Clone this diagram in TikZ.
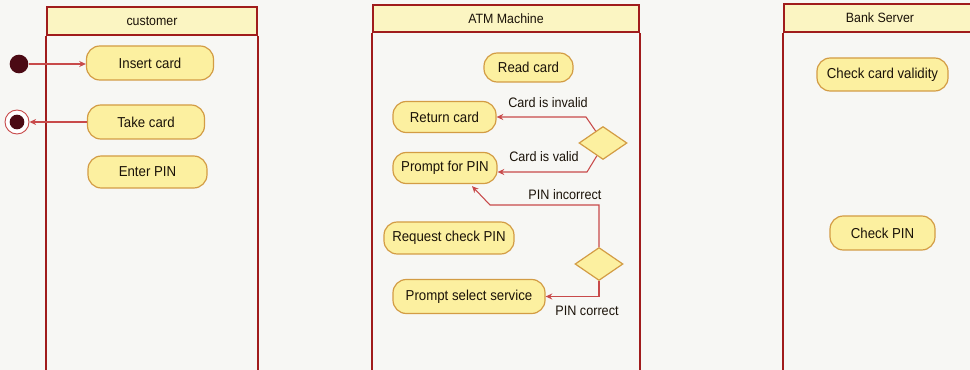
\documentclass[tikz,border=0pt]{standalone}
\usepackage{fontspec}
\setmainfont{Liberation Sans}[FakeStretch=0.92]
\usetikzlibrary{shapes.geometric,arrows.meta,calc}
\definecolor{bg}{HTML}{F7F7F4}
\definecolor{lane}{HTML}{A01C1C}
\definecolor{hdr}{HTML}{FBF5C2}
\definecolor{actfill}{HTML}{FCF0A0}
\definecolor{actline}{HTML}{D39C44}
\definecolor{flowc}{HTML}{C84A4A}
\definecolor{dot}{HTML}{4B0A14}
\definecolor{ink}{HTML}{1A1208}

\begin{document}
\begin{tikzpicture}[x=0.75pt,y=-0.75pt,
  act/.style={draw=actline, fill=actfill, line width=0.9pt, rounded corners=10pt,
    inner sep=0pt, text=ink, font=\fontsize{10.8}{12}\selectfont},
  hdrbox/.style={draw=lane, fill=hdr, line width=1.3pt, inner sep=0pt, text=ink,
    font=\fontsize{10.1}{11}\selectfont},
  laneline/.style={draw=lane, line width=1.5pt},
  choice/.style={diamond, draw=actline, fill=actfill, line width=0.9pt, inner sep=0pt,
    minimum width=36pt, minimum height=24.75pt},
  flow/.style={draw=flowc, line width=0.8pt, -{Stealth[length=5pt,width=4.5pt]}},
  lbl/.style={font=\fontsize{10.3}{11}\selectfont, text=ink, inner sep=1pt},
]
% page
\fill[bg] (0,0) rectangle (970,370);
\useasboundingbox (0,0) rectangle (970,370);

% swimlanes
\node[hdrbox, minimum width=157.5pt, minimum height=21pt] (cust) at (152,21) {customer};
\node[hdrbox, minimum width=199.5pt, minimum height=20.25pt] (atm) at (506,18.5) {ATM Machine};
\node[hdrbox, minimum width=144pt, minimum height=21pt] (bank) at (880,18) {Bank Server};
\draw[laneline] (cust.south west) -- ++(0,340);
\draw[laneline] (cust.south east) -- ++(0,340);
\draw[laneline] (atm.south west) -- ++(0,340);
\draw[laneline] (atm.south east) -- ++(0,340);
\draw[laneline] (bank.south west) -- ++(0,340);

% initial and final states
\node[circle, fill=dot, minimum size=14pt, inner sep=0pt] (start) at (19,64) {};
\node[circle, draw=flowc, fill=white, line width=0.7pt, minimum size=18pt, inner sep=0pt] (end) at (17,122) {};
\node[circle, fill=dot, minimum size=11pt, inner sep=0pt] (endcore) at (end) {};

% customer actions
\node[act, minimum width=95.25pt, minimum height=25.5pt] (insert) at (150,63) {Insert card};
\node[act, minimum width=87.75pt, minimum height=25.5pt] (take) at (146,122) {Take card};
\node[act, minimum width=89.25pt, minimum height=24pt] (enter) at (147.5,172) {Enter PIN};

% ATM actions
\node[act, minimum width=66.75pt, minimum height=21.75pt] (read) at (528.5,67.5) {Read card};
\node[act, minimum width=77.25pt, minimum height=23.25pt] (ret) at (444.5,117) {Return card};
\node[act, minimum width=78pt, minimum height=23.25pt] (pin) at (445,168) {Prompt for PIN};
\node[act, minimum width=97.5pt, minimum height=24pt] (req) at (449,238) {Request check PIN};
\node[act, minimum width=114pt, minimum height=25.5pt] (pss) at (469,296.5) {Prompt select service};
\node[choice] (d1) at (603,143) {};
\node[choice] (d2) at (599,264) {};

% bank server actions
\node[act, minimum width=98.25pt, minimum height=24.75pt] (ccv) at (882.5,74.5) {Check card validity};
\node[act, minimum width=78.75pt, minimum height=25.5pt] (cpin) at (882.5,233) {Check PIN};

% bend points
\coordinate (inv) at (586,117);
\coordinate (val) at (587,172);
\coordinate (pinc) at (490,205);

% transitions
\draw[flow] (start) -- (insert.west |- start);
\draw[flow] (take.west) -- (end);
\draw[flow] ($(d1.north)!0.3!(d1.west)$) -- (inv) -- (ret.east);
\draw[flow] ($(d1.south)!0.25!(d1.west)$) -- (val) -- (val -| pin.east);
\draw[flow] (d2.north) |- (pinc) -- ($(pin.south)+(27,2)$);
\draw[flow] (d2.south) |- (pss.east);

% guard labels
\node[lbl] (linv) at (548,103) {Card is invalid};
\node[lbl] (lval) at (544,157) {Card is valid};
\node[lbl] (lpinc) at (565,195) {PIN incorrect};
\node[lbl] (lpok) at (587,311) {PIN correct};
\end{tikzpicture}
\end{document}
